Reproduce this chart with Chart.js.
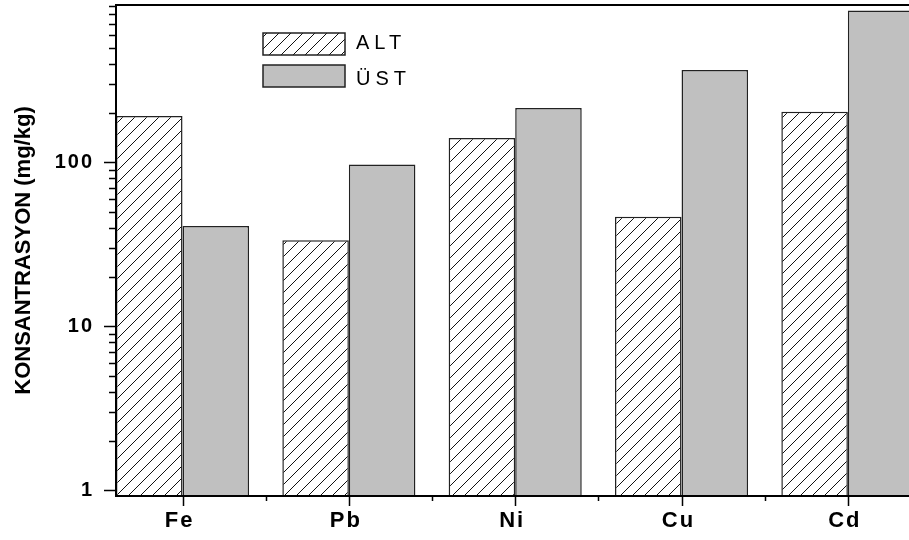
<!DOCTYPE html>
<html>
<head>
<meta charset="utf-8">
<script src="https://cdn.jsdelivr.net/npm/chart.js@4.4.1/dist/chart.umd.min.js"></script>
<style>
  html, body { margin: 0; padding: 0; background: #fff; overflow: hidden; }
  #wrap { width: 909px; height: 540px; overflow: hidden; }
</style>
</head>
<body>
<div id="wrap"><canvas id="chart" width="916" height="540"></canvas></div>
<script>
// Konsantrasyon chart (log scale, ALT vs ÜST)

const categories = ['Fe', 'Pb', 'Ni', 'Cu', 'Cd'];
const altValues = [192, 33.5, 141, 46.6, 204];
const ustValues = [41, 97, 215, 366, 843];
const yTickValues = [1, 10, 100];
const seriesLabels = ['ALT', 'ÜST'];
const yTitle = 'KONSANTRASYON (mg/kg)';

const FONT = "'Liberation Sans', Arial, sans-serif";

// diagonal hatch for the ALT bars
function makeHatch() {
  const c = document.createElement('canvas');
  c.width = 12;
  c.height = 12;
  const g = c.getContext('2d');
  g.fillStyle = '#fff';
  g.fillRect(0, 0, 12, 12);
  g.strokeStyle = '#111';
  g.lineWidth = 1;
  g.beginPath();
  g.moveTo(-1, 13); g.lineTo(13, -1);
  g.moveTo(-1, 1); g.lineTo(1, -1);
  g.moveTo(11, 13); g.lineTo(13, 11);
  g.stroke();
  return g.createPattern(c, 'repeat');
}

const hatch = makeHatch();

// ticks, frame, title and legend drawn from the scales
const framePlugin = {
  id: 'frame',
  beforeDraw(chart) {
    chart.ctx.letterSpacing = '2px';
  },
  afterDraw(chart) {
    const ctx = chart.ctx;
    const { left, right, top, bottom } = chart.chartArea;
    const ys = chart.scales.y;
    const xs = chart.scales.x;
    ctx.save();
    ctx.strokeStyle = '#000';
    ctx.lineWidth = 2;
    ctx.beginPath();
    ctx.moveTo(left - 1, top);
    ctx.lineTo(right, top);
    ctx.moveTo(left, top);
    ctx.lineTo(left, bottom + 1);
    ctx.moveTo(left - 1, bottom);
    ctx.lineTo(right, bottom);
    ctx.stroke();

    ctx.lineWidth = 1.5;
    ctx.beginPath();
    const e0 = Math.floor(Math.log10(ys.min));
    const e1 = Math.ceil(Math.log10(ys.max));
    for (let e = e0; e <= e1; e++) {
      for (let m = 1; m <= 9; m++) {
        const v = m * Math.pow(10, e);
        if (v < ys.min || v > ys.max) continue;
        const py = Math.round(ys.getPixelForValue(v)) + 0.5;
        const len = m === 1 ? 12 : 7;
        ctx.moveTo(left - len, py);
        ctx.lineTo(left, py);
      }
    }
    for (let i = 0; i < categories.length; i++) {
      const px = Math.round(xs.getPixelForValue(i)) + 0.5;
      ctx.moveTo(px, bottom);
      ctx.lineTo(px, bottom + 10);
      const mid = i + 0.5;
      if (mid < xs.max) {
        const pm = Math.round(xs.getPixelForValue(mid)) + 0.5;
        ctx.moveTo(pm, bottom);
        ctx.lineTo(pm, bottom + 5);
      }
    }
    ctx.stroke();

    // y axis title
    ctx.letterSpacing = '0px';
    ctx.font = 'bold 22px ' + FONT;
    ctx.fillStyle = '#000';
    ctx.textAlign = 'center';
    ctx.textBaseline = 'middle';
    ctx.translate(24, (top + bottom) / 2);
    ctx.rotate(-Math.PI / 2);
    ctx.fillText(yTitle, 0, 0);
    ctx.setTransform(1, 0, 0, 1, 0, 0);

    // legend
    const boxes = [[263, 33, 82, 22], [263, 65, 82, 22]];
    const baselines = [48.5, 85];
    ctx.font = '20px ' + FONT;
    ctx.letterSpacing = '5px';
    chart.data.datasets.forEach((d, i) => {
      const [bx, by, bw, bh] = boxes[i];
      ctx.fillStyle = d.backgroundColor;
      ctx.fillRect(bx, by, bw, bh);
      ctx.lineWidth = 1.5;
      ctx.strokeStyle = '#222';
      ctx.strokeRect(bx, by, bw, bh);
      ctx.fillStyle = '#000';
      ctx.textBaseline = 'alphabetic';
      ctx.textAlign = 'left';
      ctx.fillText(d.label, bx + bw + 11, baselines[i]);
    });
    ctx.restore();
  }
};

new Chart(document.getElementById('chart'), {
  type: 'bar',
  data: {
    datasets: [
      {
        label: seriesLabels[0],
        data: altValues.map((v, i) => ({ x: i, y: v })),
        backgroundColor: hatch,
        borderColor: '#222',
        borderWidth: 1.5
      },
      {
        label: seriesLabels[1],
        data: ustValues.map((v, i) => ({ x: i, y: v })),
        backgroundColor: '#c0c0c0',
        borderColor: '#222',
        borderWidth: 1.5
      }
    ]
  },
  options: {
    responsive: false,
    animation: false,
    devicePixelRatio: 1,
    categoryPercentage: 0.8,
    barPercentage: 1,
    layout: { padding: { left: 0, top: 5, right: 1.6, bottom: 0 } },
    plugins: {
      legend: { display: false },
      tooltip: { enabled: false }
    },
    scales: {
      x: {
        type: 'linear',
        min: -0.4,
        max: 4.4,
        offset: false,
        grid: { display: false, drawTicks: false, offset: false },
        border: { display: true, color: '#000', width: 2 },
        afterFit(scale) {
          scale.height = 44;
          scale.paddingLeft = 0;
          scale.paddingRight = 0;
        },
        ticks: {
          stepSize: 1,
          includeBounds: false,
          autoSkip: false,
          maxRotation: 0,
          padding: 12,
          labelOffset: -3,
          color: '#000',
          font: { family: FONT, size: 22, weight: 'bold' },
          callback: v => categories[v] ?? ''
        }
      },
      y: {
        type: 'logarithmic',
        min: 0.923,
        max: 912,
        grid: { display: false, drawTicks: false },
        border: { display: true, color: '#000', width: 2 },
        afterFit(scale) {
          scale.width = 116;
          scale.paddingTop = 0;
          scale.paddingBottom = 0;
        },
        ticks: {
          autoSkip: false,
          padding: 22,
          color: '#000',
          font: { family: FONT, size: 20, weight: 'bold' },
          callback: v => yTickValues.includes(v) ? String(v) : ''
        }
      }
    }
  },
  plugins: [framePlugin]
});
</script>
</body>
</html>
